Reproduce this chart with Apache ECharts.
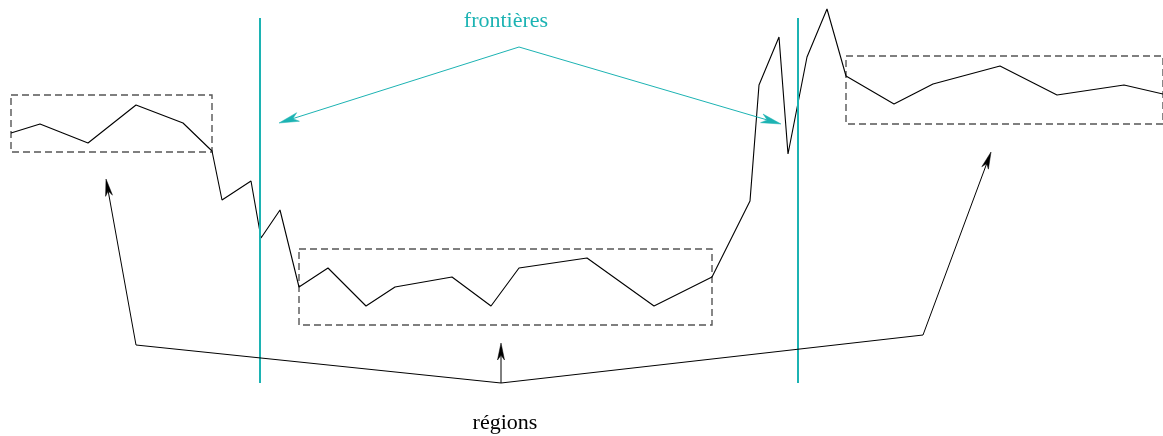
<!DOCTYPE html>
<html>
<head>
<meta charset="utf-8">
<script src="https://cdn.jsdelivr.net/npm/echarts@6/dist/echarts.min.js"></script>
<style>
  html, body { margin: 0; padding: 0; background: #ffffff; }
  #chart { width: 1163px; height: 436px; }
</style>
</head>
<body>
<div id="chart"></div>
<script>
// ---- data (x = position, level = signal height) ----
const signalX = [11, 40, 88, 136, 183, 212, 222, 251, 261, 280, 299, 328, 366, 395, 452, 491, 519, 587, 654, 712, 750, 759, 779, 788, 807, 827, 846, 894, 933, 1000, 1057, 1124, 1163];
const signalLevel = [303, 312, 293, 331, 313, 285, 236, 255, 198, 226, 149, 168, 130, 149, 159, 130, 168, 178, 130, 159, 235, 351, 399, 282, 379, 427, 360, 332, 352, 370, 341, 351, 342];

// regions: [xStart, xEnd, levelLow, levelHigh]
const regionStart = [11, 299, 846];
const regionEnd = [212, 712, 1163];
const regionLow = [284, 111, 312];
const regionHigh = [341, 187, 380];

// frontiers (boundaries) positions and vertical extent
const frontierX = [260, 798];
const frontierLow = 53;
const frontierHigh = 418;

// annotation arrows (paths ending with an arrow head)
const frontierArrows = [
  [[519, 389], [279, 313]],
  [[519, 389], [781, 312]]
];
const regionArrows = [
  [[501, 53], [136, 91], [106, 257]],
  [[501, 53], [501, 93]],
  [[501, 53], [923, 101], [991, 284]]
];

// labels
const labelTexts = ['frontières', 'régions'];
const labelX = [506, 505];
const labelLevel = [414.5, 12.5];

const CYAN = '#1cb3b3';

const chart = echarts.init(document.getElementById('chart'), null, { renderer: 'canvas' });

function arrowRender(paths, color, headLen, headHalf) {
  return function (params, api) {
    const pts = paths[params.dataIndex].map(p => api.coord(p));
    const n = pts.length;
    const tip = pts[n - 1];
    const prev = pts[n - 2];
    let dx = tip[0] - prev[0], dy = tip[1] - prev[1];
    const len = Math.sqrt(dx * dx + dy * dy);
    dx /= len; dy /= len;
    const nx = -dy, ny = dx;
    const back = [tip[0] - headLen * dx, tip[1] - headLen * dy];
    const notch = [tip[0] - 0.72 * headLen * dx, tip[1] - 0.72 * headLen * dy];
    const lineEnd = pts.slice(0, n - 1).concat([notch]);
    return {
      type: 'group',
      children: [
        {
          type: 'polyline',
          shape: { points: lineEnd },
          style: { stroke: color, lineWidth: 1, fill: null }
        },
        {
          type: 'polygon',
          shape: {
            points: [
              tip,
              [back[0] + headHalf * nx, back[1] + headHalf * ny],
              notch,
              [back[0] - headHalf * nx, back[1] - headHalf * ny]
            ]
          },
          style: { fill: color, stroke: color, lineWidth: 0.5 }
        }
      ]
    };
  };
}

const option = {
  animation: false,
  backgroundColor: '#ffffff',
  grid: { left: 0, right: 0, top: 0, bottom: 0 },
  xAxis: { type: 'value', min: 0, max: 1163, show: false },
  yAxis: { type: 'value', min: 0, max: 436, show: false },
  series: [
    {
      type: 'custom',
      name: 'régions',
      clip: false,
      data: regionStart.map((s, i) => [s, regionEnd[i], regionLow[i], regionHigh[i]]),
      renderItem: function (params, api) {
        const a = api.coord([api.value(0), api.value(3)]);
        const b = api.coord([api.value(1), api.value(2)]);
        return {
          type: 'rect',
          shape: { x: a[0], y: a[1], width: b[0] - a[0], height: b[1] - a[1] },
          style: { fill: null, stroke: '#555555', lineWidth: 1.4, lineDash: [7, 4] }
        };
      }
    },
    {
      type: 'line',
      name: 'signal',
      data: signalX.map((x, i) => [x, signalLevel[i]]),
      symbol: 'none',
      lineStyle: { color: '#000000', width: 1.1 },
      z: 3
    },
    {
      type: 'custom',
      name: 'frontières',
      clip: false,
      data: frontierX.map(x => [x]),
      renderItem: function (params, api) {
        const a = api.coord([api.value(0), frontierHigh]);
        const b = api.coord([api.value(0), frontierLow]);
        return {
          type: 'line',
          shape: { x1: a[0], y1: a[1], x2: b[0], y2: b[1] },
          style: { stroke: CYAN, lineWidth: 2 }
        };
      },
      z: 4
    },
    {
      type: 'custom',
      clip: false,
      data: frontierArrows.map((p, i) => [i]),
      renderItem: arrowRender(frontierArrows, CYAN, 20, 4.5),
      z: 5
    },
    {
      type: 'custom',
      clip: false,
      data: regionArrows.map((p, i) => [i]),
      renderItem: arrowRender(regionArrows, '#000000', 17, 3.5),
      z: 5
    },
    {
      type: 'custom',
      clip: false,
      data: labelX.map((x, i) => [x, labelLevel[i]]),
      renderItem: function (params, api) {
        const p = api.coord([api.value(0), api.value(1)]);
        return {
          type: 'text',
          x: p[0],
          y: p[1],
          style: {
            text: labelTexts[params.dataIndex],
            fill: params.dataIndex === 0 ? CYAN : '#000000',
            font: '22px "Liberation Serif", "DejaVu Serif", serif',
            align: 'center',
            verticalAlign: 'middle'
          }
        };
      },
      z: 6
    }
  ]
};
chart.setOption(option);
</script>
</body>
</html>
